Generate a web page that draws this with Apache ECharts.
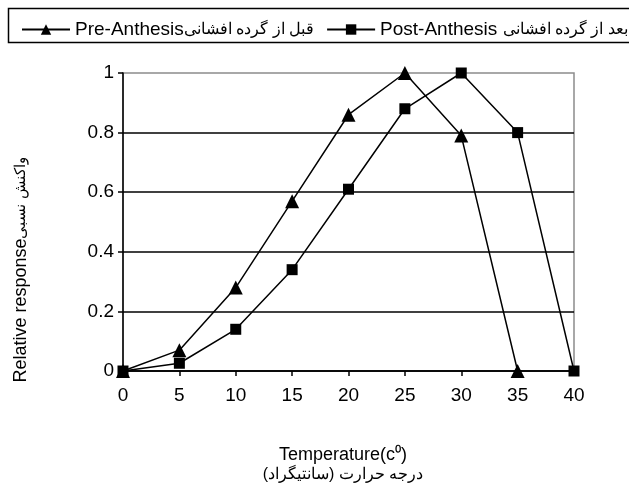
<!DOCTYPE html>
<html>
<head>
<meta charset="utf-8">
<script src="https://cdn.jsdelivr.net/npm/echarts@6/dist/echarts.min.js"></script>
<style>
html,body{margin:0;padding:0;background:#fff;}
#c{width:629px;height:494px;}
</style>
</head>
<body>
<div id="c"></div>
<script>
var temps = [0, 5, 10, 15, 20, 25, 30, 35, 40];
var preAnthesis = [0, 0.07, 0.28, 0.57, 0.86, 1.0, 0.79, 0];
var postAnthesis = [0, 0.026, 0.14, 0.34, 0.61, 0.88, 1.0, 0.80, 0];
var yTicks = [0, 0.2, 0.4, 0.6, 0.8, 1];
var preLatin = 'Pre-Anthesis', preArabic = 'قبل از گرده افشانی';
var postLatin = 'Post-Anthesis ', postArabic = 'بعد از گرده افشانی';
var preName = preLatin + preArabic;
var postName = postLatin + postArabic;

function pairs(xs, ys) {
  return ys.map(function (v, i) { return [xs[i], v]; });
}

var FONT = '"Liberation Sans", Arial, sans-serif';
var chart = echarts.init(document.getElementById('c'), null, {renderer: 'canvas'});
chart.setOption({
  animation: false,
  backgroundColor: '#fff',
  grid: {
    left: 123, right: 55, top: 73, bottom: 123,
    show: true, borderColor: '#8c8c8c', borderWidth: 1.5, backgroundColor: 'transparent'
  },
  legend: {
    orient: 'horizontal',
    left: 16, top: 15, width: 900,
    itemWidth: 48, itemHeight: 13, itemGap: 12,
    data: [preName, postName],
    formatter: function (name) {
      if (name === preName) return '{a|' + preLatin + '}{b|' + preArabic + '}';
      return '{a|' + postLatin + '}{b|' + postArabic + '}';
    },
    textStyle: {
      fontFamily: FONT, fontSize: 19, color: '#000',
      rich: {
        a: {fontFamily: FONT, fontSize: 19, color: '#000'},
        b: {fontFamily: FONT, fontSize: 16, color: '#000'}
      }
    }
  },
  xAxis: {
    type: 'value', min: 0, max: 40, interval: 5,
    axisLine: {show: true, lineStyle: {color: '#000', width: 1.5}},
    axisTick: {show: true, length: 5, lineStyle: {color: '#000', width: 1.5}},
    axisLabel: {color: '#000', fontFamily: FONT, fontSize: 19, margin: 15},
    splitLine: {show: false}
  },
  yAxis: {
    type: 'value', min: 0, max: 1, interval: 0.2,
    axisLine: {show: true, lineStyle: {color: '#000', width: 1.5}},
    axisTick: {show: true, length: 5, lineStyle: {color: '#000', width: 1.5}},
    axisLabel: {color: '#000', fontFamily: FONT, fontSize: 19, margin: 9},
    splitLine: {show: true, showMaxLine: false, lineStyle: {color: '#000', width: 1.5}}
  },
  series: [
    {
      name: preName, type: 'line', data: pairs(temps, preAnthesis),
      symbol: 'triangle', symbolSize: 14, clip: false,
      itemStyle: {color: '#000'}, lineStyle: {color: '#000', width: 1.5}
    },
    {
      name: postName, type: 'line', data: pairs(temps, postAnthesis),
      symbol: 'rect', symbolSize: 11, clip: false,
      itemStyle: {color: '#000'}, lineStyle: {color: '#000', width: 1.5}
    }
  ],
  graphic: [
    {
      type: 'rect', z: -1, silent: true,
      shape: {x: 8.5, y: 8.5, width: 700, height: 34},
      style: {fill: 'none', stroke: '#000', lineWidth: 1.5}
    },
    {
      type: 'text', silent: true,
      x: 21, y: 270, rotation: Math.PI / 2,
      style: {
        text: '{a|Relative response}{b|واکنش نسبی}',
        align: 'center', verticalAlign: 'middle',
        rich: {
          a: {fontFamily: FONT, fontSize: 18, fill: '#000'},
          b: {fontFamily: FONT, fontSize: 15, fill: '#000'}
        }
      }
    },
    {
      type: 'text', silent: true,
      x: 343, y: 455,
      style: {
        text: 'Temperature(c⁰)', align: 'center', verticalAlign: 'middle',
        font: '18px ' + FONT, fill: '#000'
      }
    },
    {
      type: 'text', silent: true,
      x: 343, y: 475,
      style: {
        text: '\u202Bدرجه حرارت (سانتیگراد)\u202C', align: 'center', verticalAlign: 'middle',
        font: '16px ' + FONT, fill: '#000'
      }
    }
  ]
});
</script>
</body>
</html>
